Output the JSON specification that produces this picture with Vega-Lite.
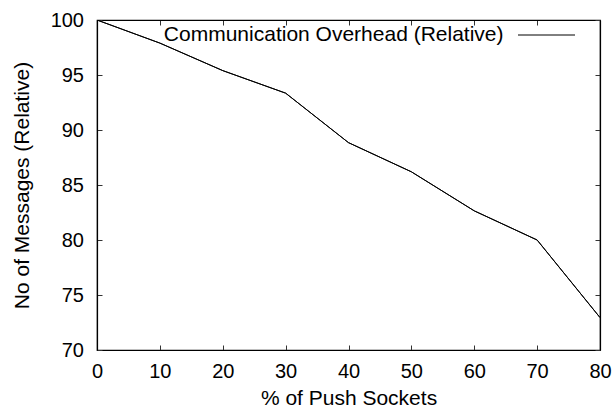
{
  "$schema": "https://vega.github.io/schema/vega-lite/v6.json",
  "autosize": "none",
  "width": 503,
  "height": 330,
  "padding": {"left": 97, "top": 20, "right": 12, "bottom": 57},
  "background": "white",
  "config": {
    "font": "Liberation Sans",
    "view": {"stroke": "black", "strokeWidth": 1.2},
    "axis": {
      "grid": false,
      "domainColor": "black",
      "domainWidth": 1.2,
      "tickColor": "#333333",
      "tickSize": -5,
      "tickWidth": 1,
      "labelFlush": false,
      "labelFont": "Liberation Sans",
      "labelFontSize": 20,
      "labelColor": "black",
      "titleFont": "Liberation Sans",
      "titleFontSize": 21,
      "titleFontWeight": "normal",
      "titleColor": "black"
    }
  },
  "data": {
    "values": [
      {"push": 0, "messages": 100.0},
      {"push": 10, "messages": 97.9},
      {"push": 20, "messages": 95.4},
      {"push": 30, "messages": 93.35},
      {"push": 40, "messages": 88.85},
      {"push": 50, "messages": 86.2},
      {"push": 60, "messages": 82.65},
      {"push": 70, "messages": 80.0},
      {"push": 80, "messages": 72.95}
    ]
  },
  "resolve": {"axis": {"x": "independent", "y": "independent"}},
  "layer": [
    {
      "mark": {"type": "line", "strokeWidth": 1, "clip": true},
      "encoding": {
        "x": {
          "field": "push",
          "type": "quantitative",
          "scale": {"domain": [0, 80], "nice": false},
          "axis": {
            "orient": "bottom",
            "values": [0, 10, 20, 30, 40, 50, 60, 70, 80],
            "labelPadding": 16,
            "title": "% of Push Sockets",
            "titlePadding": 6
          }
        },
        "y": {
          "field": "messages",
          "type": "quantitative",
          "scale": {"domain": [70, 100], "nice": false, "zero": false},
          "axis": {
            "orient": "left",
            "values": [70, 75, 80, 85, 90, 95, 100],
            "labelPadding": 18.5,
            "title": "No of Messages (Relative)",
            "titlePadding": 17.5
          }
        },
        "color": {
          "datum": "Communication Overhead (Relative)",
          "type": "nominal",
          "scale": {"range": ["black"]},
          "legend": {
            "title": null,
            "orient": "none",
            "legendX": 420.5,
            "legendY": -14,
            "padding": 0,
            "symbolType": "stroke",
            "symbolSize": 3249,
            "symbolStrokeWidth": 1,
            "symbolStrokeColor": "#707070",
            "labelFont": "Liberation Sans",
            "labelFontSize": 21,
            "labelColor": "black",
            "labelAlign": "right",
            "labelOffset": -72,
            "labelLimit": 500
          }
        }
      }
    },
    {
      "mark": {"type": "line", "strokeWidth": 1, "clip": true},
      "encoding": {
        "x": {
          "field": "push",
          "type": "quantitative",
          "scale": {"domain": [0, 80], "nice": false},
          "axis": {
            "orient": "top",
            "values": [0, 10, 20, 30, 40, 50, 60, 70, 80],
            "labels": false,
            "title": null
          }
        },
        "y": {
          "field": "messages",
          "type": "quantitative",
          "scale": {"domain": [70, 100], "nice": false, "zero": false},
          "axis": {
            "orient": "right",
            "values": [70, 75, 80, 85, 90, 95, 100],
            "labels": false,
            "title": null
          }
        },
        "color": {"value": "black"}
      }
    }
  ]
}
